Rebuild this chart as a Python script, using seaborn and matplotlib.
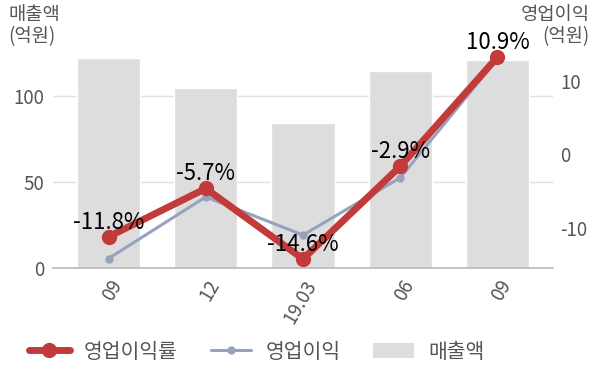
import matplotlib
matplotlib.use("Agg")
import matplotlib.pyplot as plt
import seaborn as sns
import pandas as pd
from matplotlib.lines import Line2D
from matplotlib.patches import Patch

categories = ["09", "12", "19.03", "06", "09"]
sales = [121.9, 104.7, 84.6, 114.3, 120.8]          # 매출액 (억원)
op_profit = [-14.2, -5.8, -11.0, -3.2, 13.0]        # 영업이익 (억원)
op_margin = [-11.8, -5.7, -14.6, -2.9, 10.9]        # 영업이익률 (%)
margin_labels = ["-11.8%", "-5.7%", "-14.6%", "-2.9%", "10.9%"]

sns.set_theme(style="white")
plt.rcParams['font.family'] = ['Noto Sans CJK KR', 'DejaVu Sans']
plt.rcParams['axes.unicode_minus'] = False

RED = "#c23a3a"
SLATE = "#97a2bd"
BAR = "#dddddd"
TXT = "#555555"

fig = plt.figure(figsize=(6.0, 3.83), dpi=100)
ax = fig.add_axes([53/600, 1-268/383, 500/600, (268-40)/383])

df = pd.DataFrame({"idx": list(range(len(categories))), "cat": categories,
                   "sales": sales, "profit": op_profit, "margin": op_margin})

sns.barplot(data=df, x="idx", y="sales", color=BAR, width=0.65,
            saturation=1, ax=ax, zorder=1)
ax.set_xlim(-0.571, 4.571)
ax.set_ylim(0, 132.6)
ax.set_yticks([0, 50, 100])
ax.set_xticks(range(len(categories)))
ax.set_xticklabels(categories, rotation=60, ha="right", rotation_mode="anchor",
                   color=TXT, fontsize=13.5)
ax.tick_params(axis="y", colors=TXT, labelsize=13.5, length=0, pad=6)
ax.tick_params(axis="x", length=0, pad=6)
ax.grid(axis="y", color="#e0e0e0", linewidth=1)
ax.set_axisbelow(True)
for s in ["top", "left", "right"]:
    ax.spines[s].set_visible(False)
ax.spines["bottom"].set_color("#bbbbbb")
ax.set_xlabel("")
ax.set_ylabel("")

ax2 = ax.twinx()
sns.lineplot(data=df, x="idx", y="profit", color=SLATE, linewidth=2.2,
             marker="o", markersize=6, markeredgewidth=0, ax=ax2)
ax2.set_ylim(-15.49, 15.57)
ax2.set_yticks([-10, 0, 10])
ax2.tick_params(axis="y", colors=TXT, labelsize=13.5, length=0, pad=5)
ax2.set_ylabel("")
ax2.set_xlabel("")
for s in ax2.spines.values():
    s.set_visible(False)

ax3 = ax.twinx()
sns.lineplot(data=df, x="idx", y="margin", color=RED, linewidth=5,
             marker="o", markersize=11, markeredgewidth=0, ax=ax3)
ax3.set_ylim(-15.74, 13.05)
ax3.set_yticks([])
ax3.set_ylabel("")
ax3.set_xlabel("")
for s in ax3.spines.values():
    s.set_visible(False)
ax3.set_xlim(-0.571, 4.571)

for i, (v, lab) in enumerate(zip(op_margin, margin_labels)):
    ax3.annotate(lab, (i, v), xytext=(0, 10.5), textcoords="offset points",
                 ha="center", va="center", fontsize=16, color="black", zorder=10)

fig.text(8/600, 1-4/383, "매출액\n(억원)", ha="left", va="top", color=TXT,
         fontsize=13.5, linespacing=1.05)
fig.text(590/600, 1-4/383, "영업이익\n(억원)", ha="right", va="top", color=TXT,
         fontsize=13.5, linespacing=1.05, multialignment="right")

handles = [
    Line2D([0], [0], color=RED, linewidth=5, marker="o", markersize=11, markeredgewidth=0),
    Line2D([0], [0], color=SLATE, linewidth=2.2, marker="o", markersize=6, markeredgewidth=0),
    Patch(facecolor=BAR, edgecolor="none"),
]
fig.legend(handles, ["영업이익률", "영업이익", "매출액"], loc="center left",
           bbox_to_anchor=(29/600, 1-352/383), ncol=3, frameon=False,
           fontsize=14.7, labelcolor=TXT, handlelength=2.0, columnspacing=1.6,
           handletextpad=0.7, borderpad=0, borderaxespad=0)

fig.savefig("out.png", dpi=100)
